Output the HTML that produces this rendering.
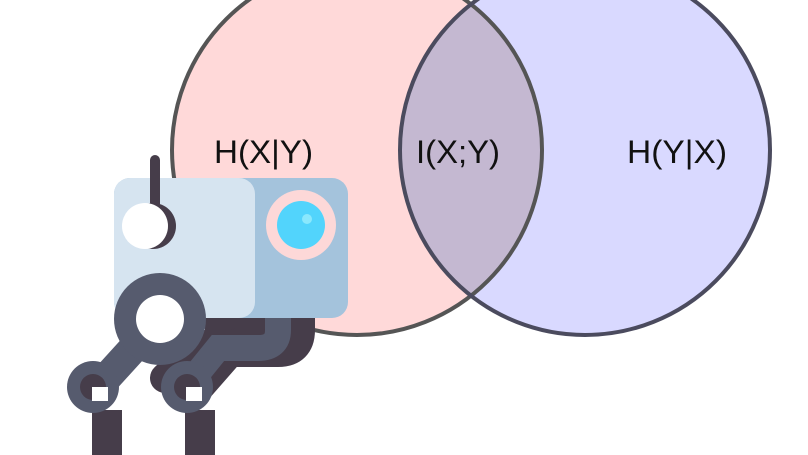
<!DOCTYPE html>
<html><head><style>
html,body{margin:0;padding:0;background:#fff;width:808px;height:455px;overflow:hidden}
svg text{font-family:"Liberation Sans",sans-serif;font-size:32px;fill:#111}
</style></head><body>
<svg width="808" height="455" viewBox="0 0 808 455" xmlns="http://www.w3.org/2000/svg">
<defs>
<clipPath id="cl"><circle cx="357" cy="150" r="185"/></clipPath>
</defs>
<circle cx="357" cy="150" r="185" fill="#ffd9d9"/>
<circle cx="585" cy="150" r="185" fill="#d9d9ff"/>
<circle cx="585" cy="150" r="185" fill="#c4b8d1" clip-path="url(#cl)"/>
<circle cx="357" cy="150" r="185" fill="none" stroke="#555" stroke-width="4"/>
<circle cx="585" cy="150" r="185" fill="none" stroke="#4b4b5e" stroke-width="4"/>
<text x="214" y="163" textLength="99" lengthAdjust="spacingAndGlyphs">H(X|Y)</text>
<text x="416" y="163" textLength="84" lengthAdjust="spacingAndGlyphs">I(X;Y)</text>
<text x="627" y="163" textLength="100" lengthAdjust="spacingAndGlyphs">H(Y|X)</text>

<!-- robot legs back -->
<rect x="205" y="310" width="60" height="30" fill="#463d4a"/>
<g fill="none" stroke-linecap="round">
<path d="M300 315 L300 330 Q300 352 278 352 L230 352 L195 392" stroke="#463d4a" stroke-width="30"/>
<path d="M250 315 L250 328 Q250 345 230 345 L200 345 L165 378" stroke="#463d4a" stroke-width="30"/>
<path d="M278 315 L278 330 Q278 348 258 348 L218 348 L188 385" stroke="#565b6e" stroke-width="26"/>
</g>
<rect x="185" y="410" width="30" height="45" fill="#463d4a"/>
<rect x="92" y="410" width="30" height="45" fill="#463d4a"/>
<!-- head -->
<rect x="114" y="178" width="234" height="140" rx="16" fill="#a4c3dc"/>
<rect x="114" y="178" width="141" height="140" rx="16" fill="#d6e4f0"/>
<circle cx="301" cy="225" r="35" fill="#fdd8d8"/>
<circle cx="301" cy="225" r="24" fill="#52d4fc"/>
<circle cx="307" cy="219" r="5" fill="#8ae8fd"/>
<line x1="155" y1="160" x2="155" y2="215" stroke="#463d4a" stroke-width="10" stroke-linecap="round"/>
<circle cx="153" cy="226" r="23" fill="#463d4a"/>
<circle cx="145" cy="226" r="23" fill="#fff"/>
<!-- front arm -->
<path d="M160 319 L100 385" stroke="#565b6e" stroke-width="30" fill="none"/>
<circle cx="160" cy="319" r="46" fill="#565b6e"/>
<circle cx="160" cy="319" r="24" fill="#fff"/>
<circle cx="93" cy="387" r="26" fill="#565b6e"/>
<circle cx="93" cy="387" r="13" fill="#463d4a"/>
<rect x="92" y="387" width="16" height="14" fill="#fff"/>
<circle cx="187" cy="387" r="26" fill="#565b6e"/>
<circle cx="187" cy="387" r="13" fill="#463d4a"/>
<rect x="186" y="387" width="16" height="14" fill="#fff"/>
</svg>
</body></html>
